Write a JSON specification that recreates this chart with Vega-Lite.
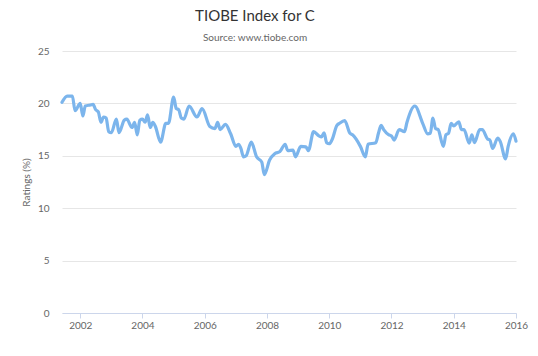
{
  "$schema": "https://vega.github.io/schema/vega-lite/v6.json",
  "width": 454,
  "height": 262,
  "autosize": "none",
  "padding": {"left": 62, "top": 51, "right": 22, "bottom": 43},
  "background": "white",
  "config": {"view": {"stroke": null}, "font": "Lato"},
  "title": {
    "text": "TIOBE Index for C",
    "subtitle": "Source: www.tiobe.com",
    "font": "Lato",
    "fontSize": 15,
    "fontWeight": "normal",
    "color": "#333333",
    "subtitleFont": "Lato",
    "subtitleFontSize": 10,
    "subtitleColor": "#666666",
    "anchor": "middle",
    "frame": "group",
    "offset": 3,
    "subtitlePadding": 9,
    "dx": -34
  },
  "data": {
    "values": [
      {"date": "2001-06-01", "rating": 20.1},
      {"date": "2001-08-01", "rating": 20.7},
      {"date": "2001-10-01", "rating": 20.7},
      {"date": "2001-11-01", "rating": 19.3},
      {"date": "2002-01-01", "rating": 20.0},
      {"date": "2002-02-01", "rating": 18.8},
      {"date": "2002-03-01", "rating": 19.75},
      {"date": "2002-05-01", "rating": 19.85},
      {"date": "2002-06-01", "rating": 19.9},
      {"date": "2002-07-01", "rating": 19.4},
      {"date": "2002-08-01", "rating": 19.2},
      {"date": "2002-09-01", "rating": 18.2},
      {"date": "2002-10-01", "rating": 18.7},
      {"date": "2002-11-01", "rating": 18.6},
      {"date": "2002-12-01", "rating": 17.3},
      {"date": "2003-01-01", "rating": 17.2},
      {"date": "2003-03-01", "rating": 18.5},
      {"date": "2003-04-01", "rating": 17.2},
      {"date": "2003-06-01", "rating": 18.4},
      {"date": "2003-07-01", "rating": 18.5},
      {"date": "2003-09-01", "rating": 17.7},
      {"date": "2003-10-01", "rating": 18.2},
      {"date": "2003-11-01", "rating": 17.0},
      {"date": "2003-12-01", "rating": 18.4},
      {"date": "2004-01-01", "rating": 18.5},
      {"date": "2004-02-01", "rating": 18.2},
      {"date": "2004-03-01", "rating": 18.9},
      {"date": "2004-04-01", "rating": 17.7},
      {"date": "2004-05-01", "rating": 18.2},
      {"date": "2004-06-01", "rating": 17.8},
      {"date": "2004-08-01", "rating": 16.3},
      {"date": "2004-10-01", "rating": 18.1},
      {"date": "2004-11-01", "rating": 18.1},
      {"date": "2005-01-01", "rating": 20.6},
      {"date": "2005-02-01", "rating": 19.5},
      {"date": "2005-03-01", "rating": 19.4},
      {"date": "2005-04-01", "rating": 18.6},
      {"date": "2005-05-01", "rating": 18.5},
      {"date": "2005-07-01", "rating": 19.75},
      {"date": "2005-10-01", "rating": 18.7},
      {"date": "2005-12-01", "rating": 19.5},
      {"date": "2006-03-01", "rating": 17.8},
      {"date": "2006-05-01", "rating": 17.6},
      {"date": "2006-06-01", "rating": 18.2},
      {"date": "2006-07-01", "rating": 17.5},
      {"date": "2006-09-01", "rating": 18.0},
      {"date": "2006-11-01", "rating": 17.1},
      {"date": "2007-01-01", "rating": 15.9},
      {"date": "2007-02-01", "rating": 16.1},
      {"date": "2007-03-01", "rating": 15.7},
      {"date": "2007-04-01", "rating": 14.9},
      {"date": "2007-05-01", "rating": 15.0},
      {"date": "2007-07-01", "rating": 16.3},
      {"date": "2007-09-01", "rating": 14.9},
      {"date": "2007-11-01", "rating": 14.4},
      {"date": "2007-12-01", "rating": 13.2},
      {"date": "2008-02-01", "rating": 14.6},
      {"date": "2008-04-01", "rating": 15.2},
      {"date": "2008-06-01", "rating": 15.4},
      {"date": "2008-08-01", "rating": 16.1},
      {"date": "2008-09-01", "rating": 15.5},
      {"date": "2008-11-01", "rating": 15.55},
      {"date": "2008-12-01", "rating": 14.9},
      {"date": "2009-02-01", "rating": 15.9},
      {"date": "2009-04-01", "rating": 15.85},
      {"date": "2009-05-01", "rating": 15.5},
      {"date": "2009-07-01", "rating": 17.3},
      {"date": "2009-09-01", "rating": 16.9},
      {"date": "2009-10-01", "rating": 16.8},
      {"date": "2009-11-01", "rating": 17.2},
      {"date": "2009-12-01", "rating": 16.25},
      {"date": "2010-01-01", "rating": 16.15},
      {"date": "2010-02-01", "rating": 16.5},
      {"date": "2010-04-01", "rating": 17.9},
      {"date": "2010-05-01", "rating": 18.1},
      {"date": "2010-07-01", "rating": 18.35},
      {"date": "2010-09-01", "rating": 17.15},
      {"date": "2010-10-01", "rating": 17.0},
      {"date": "2011-01-01", "rating": 15.9},
      {"date": "2011-03-01", "rating": 14.9},
      {"date": "2011-04-01", "rating": 16.1},
      {"date": "2011-07-01", "rating": 16.25},
      {"date": "2011-08-01", "rating": 17.15},
      {"date": "2011-09-01", "rating": 17.9},
      {"date": "2011-10-01", "rating": 17.5},
      {"date": "2011-12-01", "rating": 17.0},
      {"date": "2012-01-01", "rating": 16.9},
      {"date": "2012-02-01", "rating": 16.5},
      {"date": "2012-04-01", "rating": 17.5},
      {"date": "2012-06-01", "rating": 17.3},
      {"date": "2012-07-01", "rating": 18.2},
      {"date": "2012-10-01", "rating": 19.75},
      {"date": "2013-01-01", "rating": 18.1},
      {"date": "2013-03-01", "rating": 17.1},
      {"date": "2013-04-01", "rating": 17.15},
      {"date": "2013-05-01", "rating": 18.6},
      {"date": "2013-06-01", "rating": 17.6},
      {"date": "2013-07-01", "rating": 17.5},
      {"date": "2013-09-01", "rating": 15.9},
      {"date": "2013-10-01", "rating": 17.0},
      {"date": "2013-11-01", "rating": 17.15},
      {"date": "2013-12-01", "rating": 18.1},
      {"date": "2014-01-01", "rating": 17.85},
      {"date": "2014-03-01", "rating": 18.25},
      {"date": "2014-04-01", "rating": 17.5},
      {"date": "2014-05-01", "rating": 17.5},
      {"date": "2014-07-01", "rating": 16.2},
      {"date": "2014-08-01", "rating": 17.0},
      {"date": "2014-09-01", "rating": 16.25},
      {"date": "2014-11-01", "rating": 17.5},
      {"date": "2014-12-01", "rating": 17.5},
      {"date": "2015-02-01", "rating": 16.6},
      {"date": "2015-03-01", "rating": 16.5},
      {"date": "2015-04-01", "rating": 15.7},
      {"date": "2015-06-01", "rating": 16.7},
      {"date": "2015-07-01", "rating": 16.35},
      {"date": "2015-09-01", "rating": 14.7},
      {"date": "2015-10-01", "rating": 15.9},
      {"date": "2015-12-01", "rating": 17.1},
      {"date": "2016-01-01", "rating": 16.4}
    ]
  },
  "mark": {
    "type": "line",
    "color": "#7cb5ec",
    "strokeWidth": 3.2,
    "interpolate": "monotone",
    "strokeCap": "round",
    "strokeJoin": "round"
  },
  "encoding": {
    "x": {
      "field": "date",
      "type": "temporal",
      "scale": {
        "type": "utc",
        "nice": false,
        "domain": [
          {"year": 2001, "month": 6, "date": 1, "utc": true},
          {"year": 2016, "month": 1, "date": 1, "utc": true}
        ]
      },
      "axis": {
        "title": null,
        "values": [
          {"year": 2002, "utc": true},
          {"year": 2004, "utc": true},
          {"year": 2006, "utc": true},
          {"year": 2008, "utc": true},
          {"year": 2010, "utc": true},
          {"year": 2012, "utc": true},
          {"year": 2014, "utc": true},
          {"year": 2016, "utc": true}
        ],
        "format": "%Y",
        "grid": false,
        "domainColor": "#ccd6eb",
        "domainWidth": 1,
        "tickColor": "#ccd6eb",
        "tickSize": 5,
        "labelFont": "Lato",
        "labelFontSize": 10,
        "labelColor": "#666666",
        "labelPadding": 2,
        "labelFlush": false
      }
    },
    "y": {
      "field": "rating",
      "type": "quantitative",
      "scale": {"domain": [0, 25], "nice": false, "zero": true},
      "axis": {
        "title": "Ratings (%)",
        "titleFont": "Lato",
        "titleFontSize": 10,
        "titleFontWeight": "normal",
        "titleColor": "#666666",
        "titlePadding": 6,
        "values": [0, 5, 10, 15, 20, 25],
        "domain": false,
        "ticks": false,
        "tickSize": 0,
        "grid": true,
        "gridColor": "#e6e6e6",
        "gridWidth": 1,
        "labelFont": "Lato",
        "labelFontSize": 10,
        "labelColor": "#666666",
        "labelPadding": 13
      }
    }
  }
}
